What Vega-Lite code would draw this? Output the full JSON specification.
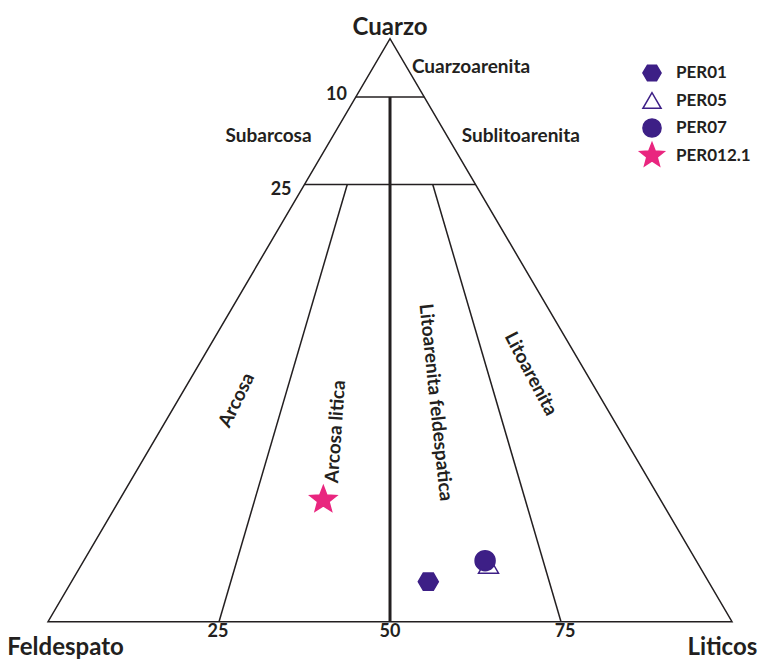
{
  "$schema": "https://vega.github.io/schema/vega-lite/v6.json",
  "width": 758,
  "height": 659,
  "autosize": {"type": "none"},
  "padding": 0,
  "background": "white",
  "config": {"view": {"stroke": null}, "font": "Lato"},
  "datasets": {
    "outline": [
      {"x": 50, "y": 0, "i": 0},
      {"x": 100, "y": 0, "i": 1},
      {"x": 50, "y": 100, "i": 2},
      {"x": 0, "y": 0, "i": 3},
      {"x": 50, "y": 0, "i": 4}
    ],
    "edges": [
      {"x": 45, "y": 90, "x2": 55, "y2": 90},
      {"x": 37.5, "y": 75, "x2": 62.5, "y2": 75},
      {"x": 43.75, "y": 75, "x2": 25, "y2": 0},
      {"x": 56.25, "y": 75, "x2": 75, "y2": 0}
    ],
    "divider": [{"x": 50, "y": 90, "x2": 50, "y2": 0}],
    "samples": [
      {"sample": "PER01", "x": 55.6, "y": 6.86},
      {"sample": "PER05", "x": 64.4, "y": 9.8},
      {"sample": "PER07", "x": 63.9, "y": 10.46},
      {"sample": "PER012.1", "x": 40.25, "y": 20.9}
    ],
    "labels": [
      {"text": "Cuarzo", "x": 50, "y": 100.7, "kind": "corner"},
      {"text": "Feldespato", "x": 2.56, "y": -5.71, "kind": "corner"},
      {"text": "Liticos", "x": 98.6, "y": -5.71, "kind": "corner"},
      {"text": "Cuarzoarenita", "x": 53.2, "y": 94.2, "kind": "left"},
      {"text": "Sublitoarenita", "x": 60.5, "y": 82.3, "kind": "left"},
      {"text": "Subarcosa", "x": 32.24, "y": 82.3, "kind": "center"},
      {"text": "10", "x": 43.7, "y": 89.5, "kind": "right"},
      {"text": "25", "x": 35.6, "y": 73.2, "kind": "right"},
      {"text": "25", "x": 24.85, "y": -2.68, "kind": "num"},
      {"text": "50", "x": 50, "y": -2.68, "kind": "num"},
      {"text": "75", "x": 75.6, "y": -2.68, "kind": "num"},
      {"text": "Arcosa", "x": 27.56, "y": 38.0, "kind": "r1"},
      {"text": "Arcosa litica", "x": 42.03, "y": 32.6, "kind": "r2"},
      {"text": "Litoarenita feldespatica", "x": 56.7, "y": 37.6, "kind": "r3"},
      {"text": "Litoarenita", "x": 70.6, "y": 42.5, "kind": "r4"}
    ]
  },
  "encoding": {
    "x": {"field": "x", "type": "quantitative", "axis": null, "scale": {"domain": [-7.02, 103.8], "nice": false, "zero": false}},
    "y": {"field": "y", "type": "quantitative", "axis": null, "scale": {"domain": [-6.4, 106.64], "nice": false, "zero": false}}
  },
  "layer": [
    {
      "data": {"name": "outline"},
      "mark": {"type": "line", "stroke": "#231f20", "strokeWidth": 1.5, "strokeJoin": "miter"},
      "encoding": {"order": {"field": "i", "type": "quantitative"}}
    },
    {
      "data": {"name": "edges"},
      "mark": {"type": "rule", "stroke": "#231f20", "strokeWidth": 1.5},
      "encoding": {"x2": {"field": "x2"}, "y2": {"field": "y2"}}
    },
    {
      "data": {"name": "divider"},
      "mark": {"type": "rule", "stroke": "#231f20", "strokeWidth": 3},
      "encoding": {"x2": {"field": "x2"}, "y2": {"field": "y2"}}
    },
    {
      "data": {"name": "labels"},
      "transform": [{"filter": "datum.kind === 'corner'"}],
      "mark": {"type": "text", "align": "center", "baseline": "alphabetic", "fontSize": 24, "fontWeight": 700, "color": "#231f20"},
      "encoding": {"text": {"field": "text"}}
    },
    {
      "data": {"name": "labels"},
      "transform": [{"filter": "datum.kind === 'left'"}],
      "mark": {"type": "text", "align": "left", "baseline": "alphabetic", "fontSize": 19, "fontWeight": 700, "color": "#231f20"},
      "encoding": {"text": {"field": "text"}}
    },
    {
      "data": {"name": "labels"},
      "transform": [{"filter": "datum.kind === 'right'"}],
      "mark": {"type": "text", "align": "right", "baseline": "alphabetic", "fontSize": 18, "fontWeight": 700, "color": "#231f20"},
      "encoding": {"text": {"field": "text"}}
    },
    {
      "data": {"name": "labels"},
      "transform": [{"filter": "datum.kind === 'center'"}],
      "mark": {"type": "text", "align": "center", "baseline": "alphabetic", "fontSize": 19, "fontWeight": 700, "color": "#231f20"},
      "encoding": {"text": {"field": "text"}}
    },
    {
      "data": {"name": "labels"},
      "transform": [{"filter": "datum.kind === 'num'"}],
      "mark": {"type": "text", "align": "center", "baseline": "alphabetic", "fontSize": 18, "fontWeight": 700, "color": "#231f20"},
      "encoding": {"text": {"field": "text"}}
    },
    {
      "data": {"name": "labels"},
      "transform": [{"filter": "datum.kind === 'r1'"}],
      "mark": {"type": "text", "align": "center", "baseline": "middle", "angle": -64, "fontSize": 19, "fontWeight": 700, "color": "#231f20"},
      "encoding": {"text": {"field": "text"}}
    },
    {
      "data": {"name": "labels"},
      "transform": [{"filter": "datum.kind === 'r2'"}],
      "mark": {"type": "text", "align": "center", "baseline": "middle", "angle": -86, "fontSize": 19, "fontWeight": 700, "color": "#231f20"},
      "encoding": {"text": {"field": "text"}}
    },
    {
      "data": {"name": "labels"},
      "transform": [{"filter": "datum.kind === 'r3'"}],
      "mark": {"type": "text", "align": "center", "baseline": "middle", "angle": 84, "fontSize": 19, "fontWeight": 700, "color": "#231f20"},
      "encoding": {"text": {"field": "text"}}
    },
    {
      "data": {"name": "labels"},
      "transform": [{"filter": "datum.kind === 'r4'"}],
      "mark": {"type": "text", "align": "center", "baseline": "middle", "angle": 62, "fontSize": 19, "fontWeight": 700, "color": "#231f20"},
      "encoding": {"text": {"field": "text"}}
    },
    {
      "data": {"name": "samples"},
      "mark": {"type": "point", "filled": true, "opacity": 1, "size": 400, "strokeWidth": 1.5},
      "encoding": {
        "shape": {
          "field": "sample", "type": "nominal",
          "scale": {
            "domain": ["PER01", "PER05", "PER07", "PER012.1"],
            "range": [
              "M-1,0L-0.5,-0.866L0.5,-0.866L1,0L0.5,0.866L-0.5,0.866Z",
              "triangle-up",
              "circle",
              "M0,-1.4L0.3527,-0.4854L1.3315,-0.4326L0.5706,0.1854L0.8229,1.1326L0,0.6L-0.8229,1.1326L-0.5706,0.1854L-1.3315,-0.4326L-0.3527,-0.4854Z"
            ]
          },
          "legend": {
            "orient": "none", "legendX": 642, "legendY": 63, "title": null, "gridAlign": "all",
            "labelFont": "Lato", "labelFontSize": 17, "labelFontWeight": 700, "labelColor": "#231f20",
            "symbolSize": 330, "labelOffset": 14, "rowPadding": -2.5, "padding": 0, "symbolStrokeWidth": 1.5
          }
        },
        "fill": {
          "field": "sample", "type": "nominal",
          "scale": {"domain": ["PER01", "PER05", "PER07", "PER012.1"], "range": ["#3d1f86", "#ffffff", "#3d1f86", "#e9267f"]},
          "legend": {
            "orient": "none", "legendX": 642, "legendY": 63, "title": null, "gridAlign": "all",
            "labelFont": "Lato", "labelFontSize": 17, "labelFontWeight": 700, "labelColor": "#231f20",
            "symbolSize": 330, "labelOffset": 14, "rowPadding": -2.5, "padding": 0, "symbolStrokeWidth": 1.5
          }
        },
        "stroke": {
          "field": "sample", "type": "nominal",
          "scale": {"domain": ["PER01", "PER05", "PER07", "PER012.1"], "range": ["#3d1f86", "#3d1f86", "#3d1f86", "#e9267f"]},
          "legend": {
            "orient": "none", "legendX": 642, "legendY": 63, "title": null, "gridAlign": "all",
            "labelFont": "Lato", "labelFontSize": 17, "labelFontWeight": 700, "labelColor": "#231f20",
            "symbolSize": 330, "labelOffset": 14, "rowPadding": -2.5, "padding": 0, "symbolStrokeWidth": 1.5
          }
        }
      }
    }
  ]
}
